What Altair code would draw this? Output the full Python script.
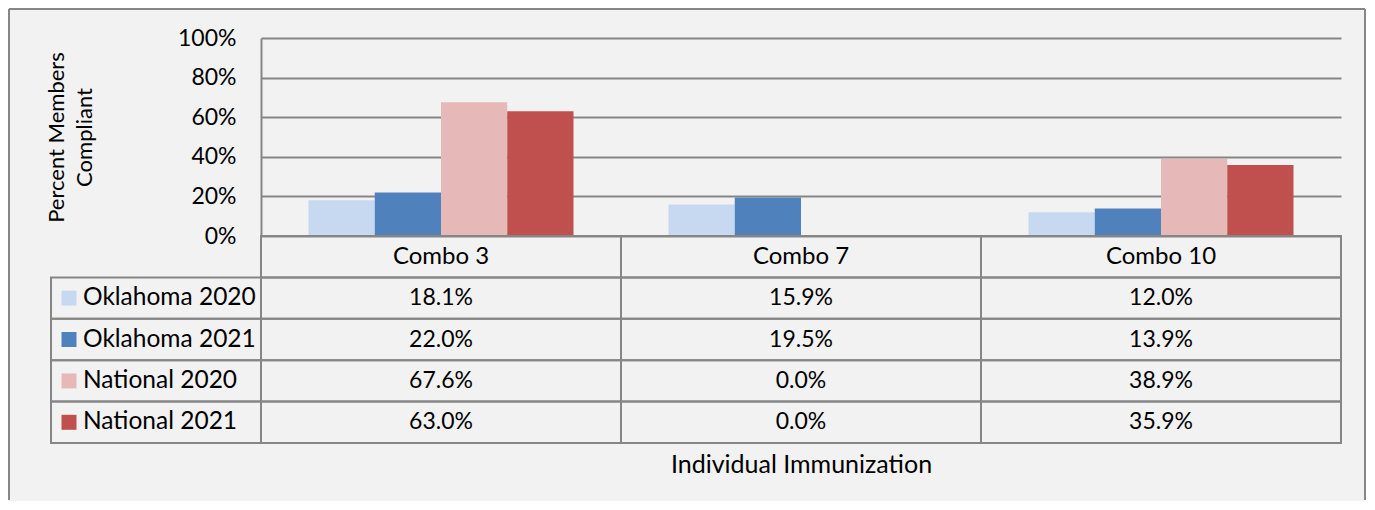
import altair as alt
import pandas as pd

# ---------------- data ----------------
combos = ["Combo 3", "Combo 7", "Combo 10"]
series = ["Oklahoma 2020", "Oklahoma 2021", "National 2020", "National 2021"]
ok_2020 = [18.1, 15.9, 12.0]
ok_2021 = [22.0, 19.5, 13.9]
nat_2020 = [67.6, 0.0, 38.9]
nat_2021 = [63.0, 0.0, 35.9]
colors = ["#C6D9F1", "#4F81BD", "#E6B9B8", "#C0504D"]
y_ticks = [0, 20, 40, 60, 80, 100]

values_by_series = [ok_2020, ok_2021, nat_2020, nat_2021]
records = []
for s, vals in zip(series, values_by_series):
    for c, v in zip(combos, vals):
        records.append({"series": s, "combo": c, "value": v, "label": f"{v:.1f}%"})
df = pd.DataFrame(records)

table_rows = ["header"] + series
hdr = pd.DataFrame({"combo": combos, "row": ["header"] * len(combos)})
cells = pd.DataFrame([{"combo": c, "row": r} for r in table_rows for c in combos])
leg = pd.DataFrame({"row": series, "series": series})
one = pd.DataFrame({"k": [0]})

# ---------------- styling ----------------
FONT = "Lato"
GRID = "#868686"
TXT = "#000000"

row_scale = alt.Scale(domain=table_rows, range=[198, 405], paddingInner=0, paddingOuter=0)

x_enc = alt.X(
    "combo:N", sort=combos,
    scale=alt.Scale(domain=combos, paddingInner=0, paddingOuter=0),
    axis=alt.Axis(labels=False, ticks=False, domain=False, grid=False,
                  title="Individual Immunization", titleFont=FONT, titleFontSize=25,
                  titleFontWeight="normal", titleColor=TXT, titlePadding=216),
)
color_enc = alt.Color("series:N", sort=series,
                      scale=alt.Scale(domain=series, range=colors), legend=None)

bars = alt.Chart(df).mark_bar().encode(
    x=x_enc,
    xOffset=alt.XOffset("series:N", sort=series,
                        scale=alt.Scale(domain=series, paddingInner=0, paddingOuter=0.717)),
    y=alt.Y("value:Q", scale=alt.Scale(domain=[0, 100], nice=False),
            axis=alt.Axis(values=y_ticks, labelExpr="datum.value + '%'",
                          labelFont=FONT, labelFontSize=23, labelColor=TXT,
                          labelPadding=25, ticks=False,
                          domain=True, domainColor=GRID, domainWidth=2,
                          grid=True, gridColor=GRID, gridWidth=2,
                          title=["Percent Members", "Compliant"],
                          titleFont=FONT, titleFontSize=22, titleFontWeight="normal",
                          titleColor=TXT, titleX=-215, titleY=99, titleAngle=270,
                          titleAlign="center", titleBaseline="top", titleLineHeight=28)),
    color=color_enc,
)

cell_rects = alt.Chart(cells).mark_rect(fill="transparent", stroke=GRID, strokeWidth=2).encode(
    x=x_enc,
    y=alt.Y("row:N", scale=row_scale, axis=None),
)

left_rects = alt.Chart(leg).mark_rect(fill="transparent", stroke=GRID, strokeWidth=2).encode(
    x=alt.value(-210), x2=alt.value(0),
    y=alt.Y("row:N", scale=row_scale, axis=None),
)

squares = alt.Chart(leg).mark_point(shape="square", filled=True, size=225, opacity=1).encode(
    x=alt.value(-192),
    y=alt.Y("row:N", scale=row_scale, axis=None),
    color=color_enc,
)

leg_text = alt.Chart(leg).mark_text(align="left", font=FONT, fontSize=24.5, color=TXT).encode(
    x=alt.value(-178),
    y=alt.Y("row:N", scale=row_scale, axis=None),
    text="series:N",
)

hdr_text = alt.Chart(hdr).mark_text(font=FONT, fontSize=24, color=TXT).encode(
    x=x_enc,
    y=alt.Y("row:N", scale=row_scale, axis=None),
    text="combo:N",
)

val_text = alt.Chart(df).mark_text(font=FONT, fontSize=23, color=TXT).encode(
    x=x_enc,
    y=alt.Y("series:N", scale=row_scale, axis=None),
    text="label:N",
)

border_left = alt.Chart(one).mark_rule(color=GRID, strokeWidth=2).encode(
    x=alt.value(-252), y=alt.value(-29), y2=alt.value(462))
border_top = alt.Chart(one).mark_rule(color=GRID, strokeWidth=2).encode(
    x=alt.value(-252), x2=alt.value(1104), y=alt.value(-29))
border_right = alt.Chart(one).mark_rule(color=GRID, strokeWidth=2).encode(
    x=alt.value(1104), y=alt.value(-29), y2=alt.value(462))

chart = alt.layer(
    border_left, border_top, border_right,
    bars, cell_rects, left_rects, squares, leg_text, hdr_text, val_text,
).resolve_scale(y="independent").properties(
    width=1080, height=198, padding=0, background="#f2f2f2"
).configure_view(stroke=None)

chart.save("out.html", embed_options={"renderer": "svg", "actions": False})
